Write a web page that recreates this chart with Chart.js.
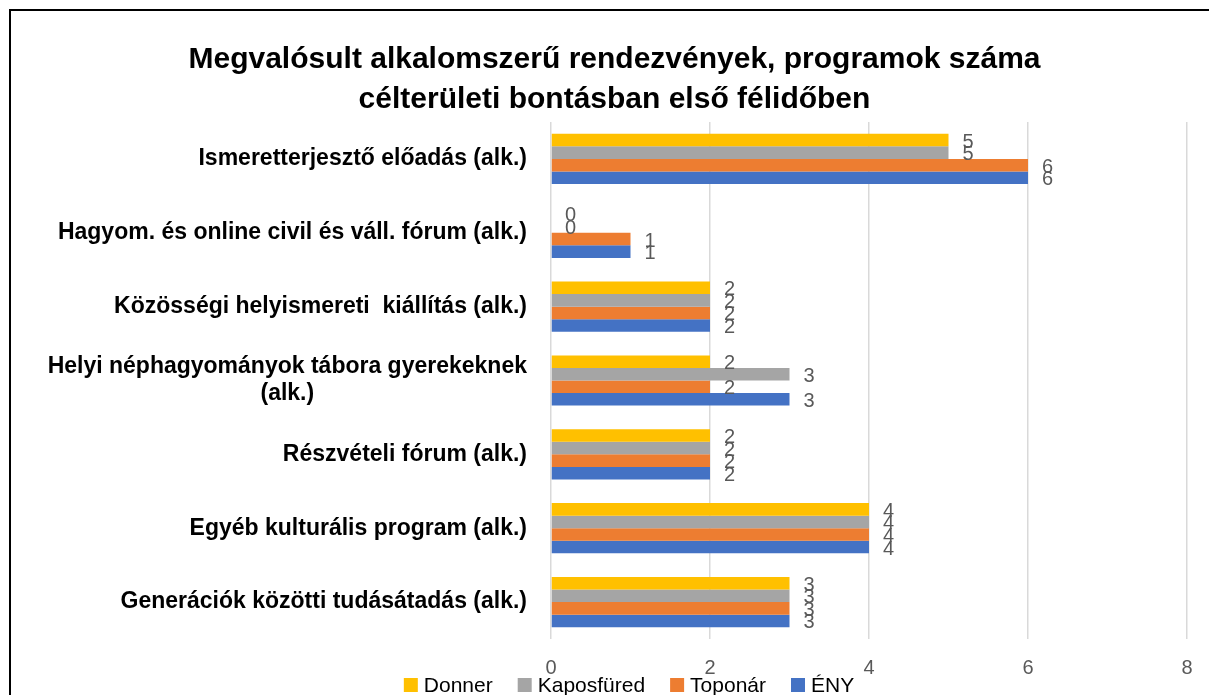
<!DOCTYPE html>
<html lang="hu">
<head>
  <meta charset="UTF-8">
  <title>Megvalósult alkalomszerű rendezvények</title>
  <style>
    * { box-sizing: border-box; margin: 0; padding: 0; }
    html, body { width: 1209px; height: 695px; overflow: hidden; background: #fff; }
    .frame { position: absolute; left: 9px; top: 9px; width: 1300px; height: 800px; border: 2px solid #000; pointer-events: none; }
    .chart-box { position: absolute; left: 0; top: 0; width: 1209px; height: 695px; }
  </style>
</head>
<body>
  <div class="chart-box"><canvas id="chart" width="1209" height="695"></canvas></div>
  <div class="frame"></div>

  <script src="https://cdn.jsdelivr.net/npm/chart.js"></script>
  <script>
    // donnees
    var categories = [
      ["Ismeretterjesztő előadás (alk.)"],
      ["Hagyom. és online civil és váll. fórum (alk.)"],
      ["Közösségi helyismereti  kiállítás (alk.)"],
      ["Helyi néphagyományok tábora gyerekeknek", "(alk.)"],
      ["Részvételi fórum (alk.)"],
      ["Egyéb kulturális program (alk.)"],
      ["Generációk közötti tudásátadás (alk.)"]
    ];
    var donner     = [5, 0, 2, 2, 2, 4, 3];
    var kaposfured = [5, 0, 2, 3, 2, 4, 3];
    var toponar    = [6, 1, 2, 2, 2, 4, 3];
    var eny        = [6, 1, 2, 3, 2, 4, 3];
    var xTicks = [0, 2, 4, 6, 8];

    var seriesNames = ["Donner", "Kaposfüred", "Toponár", "ÉNY"];
    var seriesColors = ["#FFC000", "#A5A5A5", "#ED7D31", "#4472C4"];
    var seriesData = [donner, kaposfured, toponar, eny];

    var FONT = "'Liberation Sans', Arial, sans-serif";

    // etiquettes de valeurs a droite des barres
    var valueLabels = {
      id: 'valueLabels',
      afterDatasetsDraw: function(chart) {
        var ctx = chart.ctx;
        ctx.save();
        ctx.font = "20px " + FONT;
        ctx.fillStyle = "#595959";
        ctx.textAlign = "left";
        ctx.textBaseline = "middle";
        chart.data.datasets.forEach(function(ds, i) {
          chart.getDatasetMeta(i).data.forEach(function(bar, j) {
            ctx.fillText(String(ds.data[j]), bar.x + 14, bar.y + 2);
          });
        });
        ctx.restore();
      }
    };

    // libelles de categories, graduations x et legende
    var extraText = {
      id: 'extraText',
      afterDraw: function(chart) {
        var ctx = chart.ctx, y = chart.scales.y, x = chart.scales.x;
        ctx.save();
        ctx.font = "bold 23px " + FONT;
        ctx.fillStyle = "#000";
        ctx.textBaseline = "middle";
        ctx.textAlign = "center";
        categories.forEach(function(lines, i) {
          var cy = y.getPixelForValue(i);
          var maxW = Math.max.apply(null, lines.map(function(l) { return ctx.measureText(l).width; }));
          var right = 527, lh = 27;
          var top = cy - (lines.length - 1) * lh / 2;
          lines.forEach(function(l, k) {
            ctx.fillText(l, right - maxW / 2, top + k * lh);
          });
        });

        // graduations
        ctx.font = "20px " + FONT;
        ctx.fillStyle = "#595959";
        xTicks.forEach(function(v) {
          ctx.fillText(String(v), x.getPixelForValue(v), 668);
        });

        // legende
        ctx.font = "21px " + FONT;
        ctx.textAlign = "left";
        var box = 14, gapIn = 6, gapOut = 25;
        var widths = seriesNames.map(function(n) { return ctx.measureText(n).width; });
        var total = 0;
        widths.forEach(function(w, i) { total += box + gapIn + w + (i < widths.length - 1 ? gapOut : 0); });
        var lx = 629 - total / 2, ly = 685;
        seriesNames.forEach(function(n, i) {
          ctx.fillStyle = seriesColors[i];
          ctx.fillRect(lx, ly - box / 2, box, box);
          ctx.fillStyle = "#000";
          ctx.fillText(n, lx + box + gapIn, ly + 1);
          lx += box + gapIn + widths[i] + gapOut;
        });
        ctx.restore();
      }
    };

    new Chart(document.getElementById('chart'), {
      type: 'bar',
      data: {
        labels: categories.map(function(c) { return c.join(" "); }),
        datasets: seriesNames.map(function(n, i) {
          return { label: n, data: seriesData[i], backgroundColor: seriesColors[i],
                   borderWidth: 0, categoryPercentage: 0.68, barPercentage: 1.0 };
        })
      },
      options: {
        indexAxis: 'y',
        responsive: false,
        animation: false,
        devicePixelRatio: 1,
        layout: { padding: { left: 42, right: 22, top: 0, bottom: 0 } },
        scales: {
          x: {
            min: 0, max: 8,
            afterBuildTicks: function(s) { s.ticks = xTicks.map(function(v) { return { value: v }; }); },
            grid: { color: "#D9D9D9", lineWidth: 1.5, drawTicks: false },
            border: { display: false },
            ticks: { display: false },
            afterFit: function(s) { s.height = 56; }
          },
          y: {
            grid: { display: false },
            border: { display: false },
            ticks: { display: false },
            afterFit: function(s) { s.width = 509; }
          }
        },
        plugins: {
          title: {
            display: true,
            text: ["Megvalósult alkalomszerű rendezvények, programok száma", "célterületi bontásban első félidőben"],
            color: "#000",
            font: { size: 30, weight: 'bold', family: FONT, lineHeight: 1.35 },
            padding: { top: 39, bottom: 2 }
          },
          legend: { display: false },
          tooltip: { enabled: false }
        }
      },
      plugins: [valueLabels, extraText]
    });
  </script>
</body>
</html>
